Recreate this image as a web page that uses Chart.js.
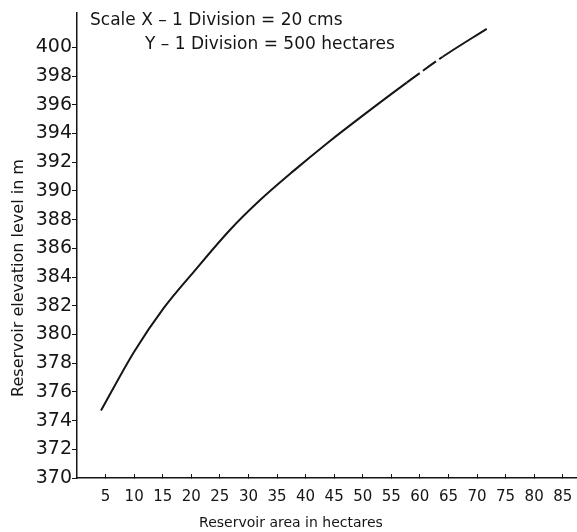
<!DOCTYPE html>
<html>
<head>
<meta charset="utf-8">
<script src="https://cdn.jsdelivr.net/npm/chart.js@4/dist/chart.umd.min.js"></script>
<style>
  html, body { margin: 0; padding: 0; background: #fff; }
  canvas { display: block; }
</style>
</head>
<body>
<canvas id="c" width="577" height="532"></canvas>
<script>
// Area–elevation curve of the reservoir
const areaHa = [4.2, 10, 15.1, 20.5, 26.8, 32, 37.9, 44, 50, 57.7, 64, 71.7];
const elevationM = [374.7, 378.8, 381.8, 384.4, 387.3, 389.35, 391.4, 393.4, 395.25, 397.55, 399.35, 401.3];

// Axis tick labels
const xTickValues = [5, 10, 15, 20, 25, 30, 35, 40, 45, 50, 55, 60, 65, 70, 75, 80, 85];
const yTickValues = [370, 372, 374, 376, 378, 380, 382, 384, 386, 388, 390, 392, 394, 396, 398, 400];

// Texts
const xTitle = 'Reservoir area in hectares';
const yTitle = 'Reservoir elevation level in m';
const scaleNote = ['Scale X – 1 Division = 20 cms', 'Y – 1 Division = 500 hectares'];

const ink = '#151515';

const freeText = {
  id: 'freeText',
  afterDraw(chart) {
    const { ctx, chartArea } = chart;
    ctx.save();
    ctx.fillStyle = ink;
    ctx.textBaseline = 'middle';
    ctx.font = '17px "DejaVu Sans"';
    ctx.textAlign = 'left';
    ctx.fillText(scaleNote[0], chartArea.left + 13, 21);
    ctx.fillText(scaleNote[1], chartArea.left + 68, 45);
    ctx.font = '14px "DejaVu Sans"';
    ctx.textAlign = 'center';
    ctx.fillText(xTitle, chartArea.left + 214, 523);
    ctx.font = '16px "DejaVu Sans"';
    ctx.translate(19, 278);
    ctx.rotate(-Math.PI / 2);
    ctx.fillText(yTitle, 0, 0);
    ctx.restore();
  }
};

new Chart(document.getElementById('c'), {
  type: 'scatter',
  data: {
    datasets: [{
      data: areaHa.map((a, i) => ({ x: a, y: elevationM[i] })),
      showLine: true,
      borderColor: ink,
      borderWidth: 2,
      pointRadius: 0,
      cubicInterpolationMode: 'monotone',
      segment: {
        borderDash: c => (c.p0.parsed.x >= 57 && c.p1.parsed.x <= 65) ? [16, 4] : undefined
      }
    }]
  },
  options: {
    responsive: false,
    animation: false,
    devicePixelRatio: 1,
    layout: { padding: { top: 13, right: 0, left: 0, bottom: 0 } },
    plugins: { legend: { display: false }, tooltip: { enabled: false } },
    scales: {
      x: {
        type: 'linear',
        min: 0,
        max: 87.5,
        afterBuildTicks: s => { s.ticks = xTickValues.map(v => ({ value: v })); },
        afterFit: s => { s.height = 54; s.paddingLeft = 0; s.paddingRight = 0; },
        border: { color: ink, width: 1.5 },
        grid: { drawOnChartArea: false, color: ink, tickLength: -4, lineWidth: 1 },
        ticks: {
          autoSkip: false, maxRotation: 0, minRotation: 0,
          padding: 14,
          color: ink,
          font: { family: 'DejaVu Sans', size: 15 }
        }
      },
      y: {
        type: 'linear',
        min: 370,
        max: 402.4,
        afterBuildTicks: s => { s.ticks = yTickValues.map(v => ({ value: v })); },
        afterFit: s => { s.width = 77; s.paddingTop = 0; s.paddingBottom = 0; },
        border: { color: ink, width: 1.5 },
        grid: { drawOnChartArea: false, color: ink, tickLength: 5, lineWidth: 1 },
        ticks: {
          autoSkip: false,
          padding: 0,
          color: ink,
          font: { family: 'DejaVu Sans', size: 19 }
        }
      }
    }
  },
  plugins: [freeText]
});
</script>
</body>
</html>
